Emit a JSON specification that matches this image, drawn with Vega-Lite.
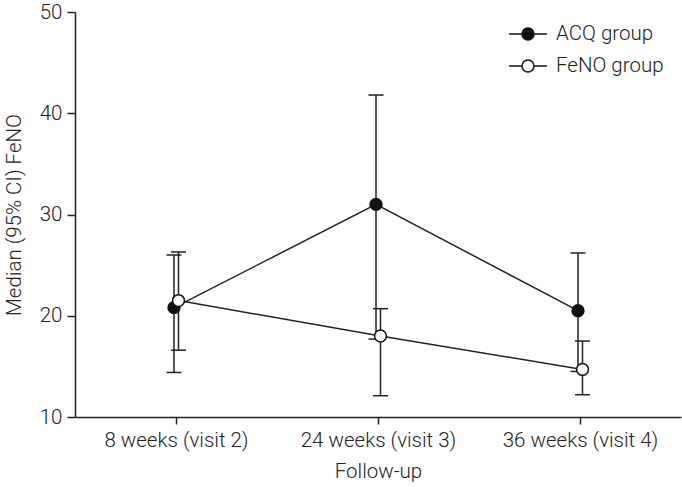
{
  "$schema": "https://vega.github.io/schema/vega-lite/v6.json",
  "width": 606,
  "height": 405,
  "autosize": {"type": "none"},
  "padding": {"left": 75, "top": 12, "right": 1, "bottom": 70},
  "background": "white",
  "config": {
    "view": {"stroke": null},
    "font": "Roboto",
    "axis": {"labelFont": "Roboto", "titleFont": "Roboto", "labelColor": "#222", "titleColor": "#222", "domainColor": "#222", "tickColor": "#222", "grid": false, "titleFontWeight": 300, "labelFontWeight": 300}
  },
  "data": {
    "values": [
      {"visit": "8 weeks (visit 2)", "group": "ACQ group", "median": 20.8, "lo": 14.4, "hi": 26.0},
      {"visit": "24 weeks (visit 3)", "group": "ACQ group", "median": 31.0, "lo": 17.7, "hi": 41.8},
      {"visit": "36 weeks (visit 4)", "group": "ACQ group", "median": 20.5, "lo": 14.5, "hi": 26.2},
      {"visit": "8 weeks (visit 2)", "group": "FeNO group", "median": 21.5, "lo": 16.6, "hi": 26.3},
      {"visit": "24 weeks (visit 3)", "group": "FeNO group", "median": 18.0, "lo": 12.1, "hi": 20.7},
      {"visit": "36 weeks (visit 4)", "group": "FeNO group", "median": 14.7, "lo": 12.2, "hi": 17.5}
    ]
  },
  "encoding": {
    "x": {
      "field": "visit", "type": "ordinal",
      "sort": ["8 weeks (visit 2)", "24 weeks (visit 3)", "36 weeks (visit 4)"],
      "scale": {"type": "point", "padding": 0.5},
      "axis": {"title": "Follow-up", "labelAngle": 0, "labelFontSize": 20.5, "titleFontSize": 20.5, "tickSize": 7, "labelPadding": 6, "titlePadding": 11, "domainWidth": 1.5, "tickWidth": 1.5}
    }
  },
  "layer": [
    {
      "mark": {"type": "rule", "stroke": "#222", "strokeWidth": 1.5, "xOffset": {"expr": "datum.group === 'ACQ group' ? -2 : 2.5"}},
      "encoding": {
        "y": {"field": "lo", "type": "quantitative", "scale": {"domain": [10, 50]},
          "axis": {"title": "Median (95% CI) FeNO", "values": [10, 20, 30, 40, 50], "labelFontSize": 20.5, "titleFontSize": 20.5, "tickSize": 8, "labelPadding": 5, "titlePadding": 15, "domainWidth": 1.5, "tickWidth": 1.5}},
        "y2": {"field": "hi"}
      }
    },
    {
      "mark": {"type": "tick", "color": "#222", "size": 15, "thickness": 1.5, "opacity": 1, "xOffset": {"expr": "datum.group === 'ACQ group' ? -2 : 2.5"}},
      "encoding": {"y": {"field": "lo", "type": "quantitative"}}
    },
    {
      "mark": {"type": "tick", "color": "#222", "size": 15, "thickness": 1.5, "opacity": 1, "xOffset": {"expr": "datum.group === 'ACQ group' ? -2 : 2.5"}},
      "encoding": {"y": {"field": "hi", "type": "quantitative"}}
    },
    {
      "mark": {"type": "line", "stroke": "#222", "strokeWidth": 1.5, "xOffset": {"expr": "datum.group === 'ACQ group' ? -2 : 2.5"}},
      "encoding": {
        "y": {"field": "median", "type": "quantitative"},
        "detail": {"field": "group"}
      }
    },
    {
      "mark": {"type": "point", "shape": "circle", "filled": false, "stroke": "#111", "strokeWidth": 1.5, "size": 140, "opacity": 1, "xOffset": {"expr": "datum.group === 'ACQ group' ? -2 : 2.5"}},
      "encoding": {
        "y": {"field": "median", "type": "quantitative"},
        "fill": {
          "field": "group", "type": "nominal",
          "scale": {"domain": ["ACQ group", "FeNO group"], "range": ["#111111", "#ffffff"]},
          "legend": {
            "title": null,
            "orient": "none",
            "legendX": 440,
            "legendY": 9,
            "padding": 0,
            "symbolType": "M-1.58,0H-0.5M0.5,0A0.5,0.5 0 1,1 -0.5,0A0.5,0.5 0 1,1 0.5,0ZM0.5,0H1.58",
            "symbolSize": 576,
            "symbolStrokeColor": "#111",
            "symbolStrokeWidth": 1.5,
            "symbolOpacity": 1,
            "labelFontSize": 20.5,
            "labelFontWeight": 300,
            "labelFont": "Roboto",
            "labelColor": "#222",
            "labelOffset": 15,
            "rowPadding": 8
          }
        }
      }
    }
  ]
}
